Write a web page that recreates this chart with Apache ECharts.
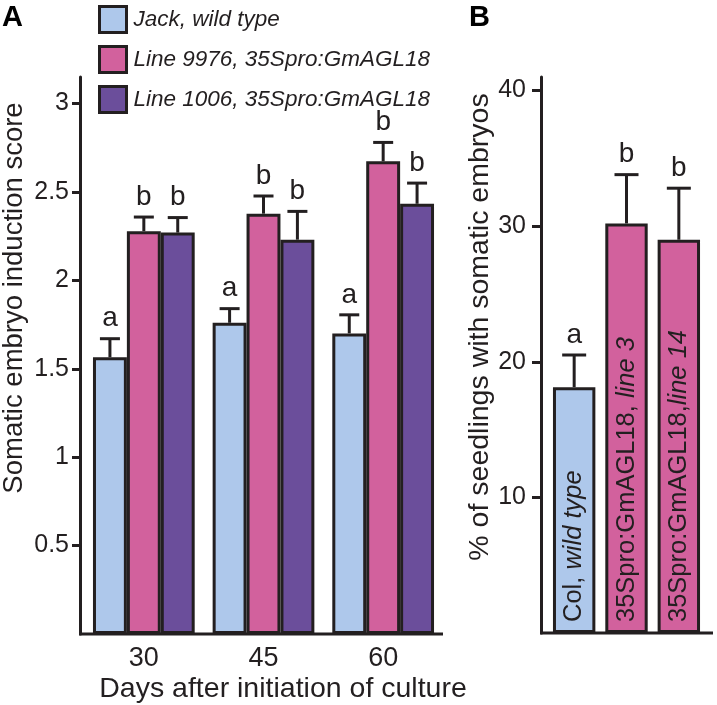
<!DOCTYPE html>
<html>
<head>
<meta charset="utf-8">
<script src="https://cdn.jsdelivr.net/npm/echarts@6/dist/echarts.min.js"></script>
<style>
  html, body { margin: 0; padding: 0; background: #fff; }
  #main { width: 717px; height: 705px; }
</style>
</head>
<body>
<div id="main"></div>
<script>
// panel A data
const days = ['30', '45', '60'];
const seriesNames = ['Jack, wild type', 'Line 9976, 35Spro:GmAGL18', 'Line 1006, 35Spro:GmAGL18'];
const jackScore = [1.565, 1.76, 1.70];
const jackErr = [0.105, 0.08, 0.105];
const line9976Score = [2.278, 2.377, 2.673];
const line9976Err = [0.08, 0.10, 0.107];
const line1006Score = [2.27, 2.23, 2.433];
const line1006Err = [0.085, 0.16, 0.117];
const lettersA = [['a', 'a', 'a'], ['b', 'b', 'b'], ['b', 'b', 'b']];
const ticksA = [0.5, 1, 1.5, 2, 2.5, 3];

// panel B data
const genotypes = ['Col, wild type', '35Spro:GmAGL18, line 3', '35Spro:GmAGL18,line 14'];
const seedlingPct = [18.13, 30.2, 29.0];
const seedlingErr = [2.37, 3.6, 3.8];
const lettersB = ['a', 'b', 'b'];
const ticksB = [10, 20, 30, 40];

const colors = ['#aec8eb', '#d2619d', '#6b4e9b'];
const ink = '#231f20';
const font = '"Liberation Sans", Arial, Helvetica, sans-serif';

const gapA = 0.15;
const gapB = 0.19;

const means = [jackScore, line9976Score, line1006Score];
const errs = [jackErr, line9976Err, line1006Err];

// [category, mean, err, bar index in group]
const errDataA = [];
for (let k = 0; k < 3; k++) {
  for (let i = 0; i < days.length; i++) {
    errDataA.push([i, means[k][i], errs[k][i], k]);
  }
}
const errDataB = genotypes.map((g, i) => [i, seedlingPct[i], seedlingErr[i], 0]);

function errRender(nBars, gap, capHalf, letterOf) {
  return function (params, api) {
    const i = api.value(0);
    const mean = api.value(1);
    const err = api.value(2);
    const k = api.value(3);
    const band = api.size([1, 0])[0];
    const barW = band * (1 - gap) / nBars;
    const base = api.coord([i, mean]);
    const x = base[0] + (k - (nBars - 1) / 2) * barW;
    const yTop = api.coord([i, mean + err])[1];
    const lineStyle = { stroke: ink, lineWidth: 3 };
    return {
      type: 'group',
      children: [
        { type: 'line', shape: { x1: x, y1: base[1], x2: x, y2: yTop }, style: lineStyle },
        { type: 'line', shape: { x1: x - capHalf, y1: yTop, x2: x + capHalf, y2: yTop }, style: lineStyle },
        {
          type: 'text',
          x: x, y: yTop - 6,
          style: { text: letterOf(k, i), fill: ink, font: '28px ' + font, align: 'center', verticalAlign: 'bottom' }
        }
      ]
    };
  };
}

const chart = echarts.init(document.getElementById('main'));

const axisText = { color: ink, fontSize: 25, fontFamily: font };

chart.setOption({
  animation: false,
  backgroundColor: '#fff',
  grid: [
    { left: 84, top: 77, width: 359, height: 557 },
    { left: 548, top: 77, width: 157, height: 556 }
  ],
  legend: {
    data: seriesNames,
    orient: 'vertical',
    left: 98,
    top: 5,
    padding: 0,
    itemWidth: 27,
    itemHeight: 26,
    itemGap: 11,
    icon: 'rect',
    itemStyle: { borderColor: ink, borderWidth: 3 },
    textStyle: { color: ink, fontSize: 22.5, fontStyle: 'italic', fontFamily: font, padding: [0, 0, 0, 2] }
  },
  xAxis: [
    {
      type: 'category', gridIndex: 0, data: days,
      axisLine: { show: false }, axisTick: { show: false },
      axisLabel: { margin: 11, fontSize: 27, color: ink, fontFamily: font }
    },
    {
      type: 'category', gridIndex: 1, data: genotypes,
      axisLine: { show: false }, axisTick: { show: false }, axisLabel: { show: false }
    }
  ],
  yAxis: [
    {
      type: 'value', gridIndex: 0, min: 0, max: 3.15, offset: 4,
      splitLine: { show: false },
      axisLine: { show: true, lineStyle: { color: ink, width: 3 } },
      axisTick: { show: true, length: 8, lineStyle: { color: ink, width: 3 }, customValues: ticksA },
      axisLabel: Object.assign({ margin: 11, customValues: ticksA }, axisText)
    },
    {
      type: 'value', gridIndex: 1, min: 0, max: 41, offset: 7,
      splitLine: { show: false },
      axisLine: { show: true, lineStyle: { color: ink, width: 3 } },
      axisTick: { show: true, length: 9, lineStyle: { color: ink, width: 3 }, customValues: ticksB },
      axisLabel: Object.assign({ margin: 15, customValues: ticksB }, axisText)
    }
  ],
  series: [
    ...seriesNames.map((name, k) => ({
      name: name,
      type: 'bar',
      xAxisIndex: 0, yAxisIndex: 0,
      data: means[k],
      barGap: '0%',
      barCategoryGap: (gapA * 100) + '%',
      itemStyle: { color: colors[k], borderColor: ink, borderWidth: 3 }
    })),
    {
      type: 'custom',
      xAxisIndex: 0, yAxisIndex: 0,
      data: errDataA,
      renderItem: errRender(3, gapA, 10, (k, i) => lettersA[k][i]),
      z: 5
    },
    {
      name: 'Panel B',
      type: 'bar',
      xAxisIndex: 1, yAxisIndex: 1,
      data: seedlingPct.map((v, i) => ({ value: v, itemStyle: { color: i === 0 ? colors[0] : colors[1] } })),
      barCategoryGap: (gapB * 100) + '%',
      itemStyle: { borderColor: ink, borderWidth: 3 },
      label: {
        show: true,
        position: 'insideBottom',
        rotate: 90,
        align: 'left',
        verticalAlign: 'middle',
        distance: 11,
        formatter: function (p) {
          const cut = p.name.lastIndexOf(',') + 1;
          return '{up|' + p.name.slice(0, cut) + '}{it|' + p.name.slice(cut) + '}';
        },
        rich: {
          up: { color: ink, fontSize: 25.5, fontFamily: font },
          it: { color: ink, fontSize: 25.5, fontFamily: font, fontStyle: 'italic' }
        }
      }
    },
    {
      type: 'custom',
      xAxisIndex: 1, yAxisIndex: 1,
      data: errDataB,
      renderItem: errRender(1, gapB, 12, (k, i) => lettersB[i]),
      z: 5
    }
  ],
  graphic: [
    { type: 'line', shape: { x1: 79, y1: 634, x2: 443, y2: 634 }, style: { stroke: ink, lineWidth: 3 } },
    { type: 'line', shape: { x1: 540, y1: 633, x2: 713, y2: 633 }, style: { stroke: ink, lineWidth: 3 } },
    { type: 'text', x: 2, y: 3, style: { text: 'A', fill: '#000', font: 'bold 29px ' + font } },
    { type: 'text', x: 469, y: 3, style: { text: 'B', fill: '#000', font: 'bold 29px ' + font } },
    {
      type: 'text', x: 14, y: 298, rotation: Math.PI / 2,
      style: { text: 'Somatic embryo induction score', fill: ink, font: '27.5px ' + font, align: 'center', verticalAlign: 'middle' }
    },
    {
      type: 'text', x: 480, y: 327, rotation: Math.PI / 2,
      style: { text: '% of seedlings with somatic embryos', fill: ink, font: '28.5px ' + font, align: 'center', verticalAlign: 'middle' }
    },
    {
      type: 'text', x: 283, y: 689,
      style: { text: 'Days after initiation of culture', fill: ink, font: '28.5px ' + font, align: 'center', verticalAlign: 'middle' }
    }
  ]
});
</script>
</body>
</html>
